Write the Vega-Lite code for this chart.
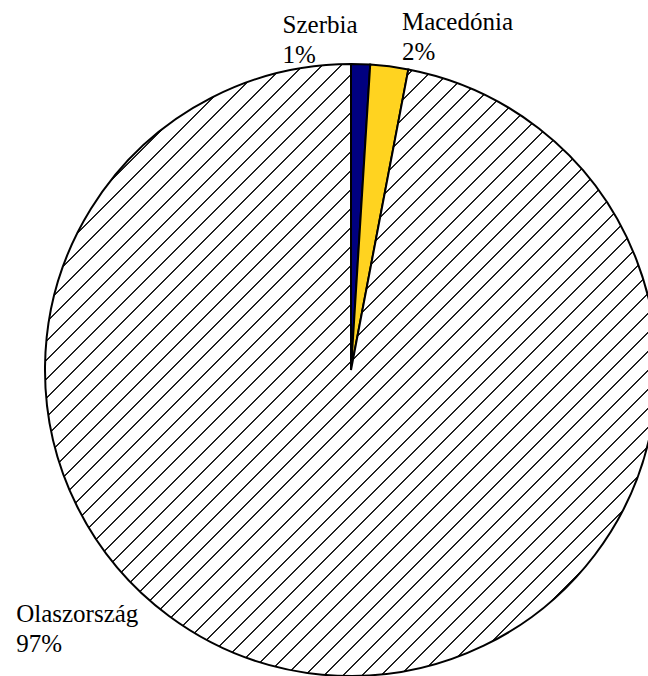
{
  "$schema": "https://vega.github.io/schema/vega-lite/v6.json",
  "width": 702,
  "height": 740,
  "autosize": "none",
  "padding": 0,
  "background": "white",
  "config": {"view": {"stroke": null}},
  "data": {
    "values": [
      {"country": "Szerbia", "share": 1, "rank": 1, "label": ["Szerbia", "1%"]},
      {"country": "Macedónia", "share": 2, "rank": 2, "label": ["Macedónia", "2%"]},
      {"country": "Olaszország", "share": 97, "rank": 3, "label": ["Olaszország", "97%"]}
    ]
  },
  "encoding": {
    "theta": {"field": "share", "type": "quantitative", "stack": true},
    "order": {"field": "rank", "type": "quantitative"}
  },
  "layer": [
    {
      "mark": {"type": "arc", "outerRadius": 306, "stroke": "black", "strokeWidth": 2},
      "encoding": {
        "fill": {
          "condition": {
            "test": "datum.country === 'Olaszország'",
            "value": {
              "gradient": "linear", "x1": 0, "y1": 0, "x2": 1, "y2": 1,
              "stops": [
                {"offset": 0, "color": "#fff"},
                {"offset": 0.0078, "color": "#fff"},{"offset": 0.0078, "color": "#222"},{"offset": 0.0094, "color": "#222"},{"offset": 0.0094, "color": "#fff"},
                {"offset": 0.0234, "color": "#fff"},{"offset": 0.0234, "color": "#222"},{"offset": 0.0250, "color": "#222"},{"offset": 0.0250, "color": "#fff"},
                {"offset": 0.0391, "color": "#fff"},{"offset": 0.0391, "color": "#222"},{"offset": 0.0407, "color": "#222"},{"offset": 0.0407, "color": "#fff"},
                {"offset": 0.0547, "color": "#fff"},{"offset": 0.0547, "color": "#222"},{"offset": 0.0563, "color": "#222"},{"offset": 0.0563, "color": "#fff"},
                {"offset": 0.0703, "color": "#fff"},{"offset": 0.0703, "color": "#222"},{"offset": 0.0719, "color": "#222"},{"offset": 0.0719, "color": "#fff"},
                {"offset": 0.0859, "color": "#fff"},{"offset": 0.0859, "color": "#222"},{"offset": 0.0875, "color": "#222"},{"offset": 0.0875, "color": "#fff"},
                {"offset": 0.1016, "color": "#fff"},{"offset": 0.1016, "color": "#222"},{"offset": 0.1032, "color": "#222"},{"offset": 0.1032, "color": "#fff"},
                {"offset": 0.1172, "color": "#fff"},{"offset": 0.1172, "color": "#222"},{"offset": 0.1188, "color": "#222"},{"offset": 0.1188, "color": "#fff"},
                {"offset": 0.1328, "color": "#fff"},{"offset": 0.1328, "color": "#222"},{"offset": 0.1344, "color": "#222"},{"offset": 0.1344, "color": "#fff"},
                {"offset": 0.1484, "color": "#fff"},{"offset": 0.1484, "color": "#222"},{"offset": 0.1500, "color": "#222"},{"offset": 0.1500, "color": "#fff"},
                {"offset": 0.1641, "color": "#fff"},{"offset": 0.1641, "color": "#222"},{"offset": 0.1657, "color": "#222"},{"offset": 0.1657, "color": "#fff"},
                {"offset": 0.1797, "color": "#fff"},{"offset": 0.1797, "color": "#222"},{"offset": 0.1813, "color": "#222"},{"offset": 0.1813, "color": "#fff"},
                {"offset": 0.1953, "color": "#fff"},{"offset": 0.1953, "color": "#222"},{"offset": 0.1969, "color": "#222"},{"offset": 0.1969, "color": "#fff"},
                {"offset": 0.2109, "color": "#fff"},{"offset": 0.2109, "color": "#222"},{"offset": 0.2125, "color": "#222"},{"offset": 0.2125, "color": "#fff"},
                {"offset": 0.2266, "color": "#fff"},{"offset": 0.2266, "color": "#222"},{"offset": 0.2282, "color": "#222"},{"offset": 0.2282, "color": "#fff"},
                {"offset": 0.2422, "color": "#fff"},{"offset": 0.2422, "color": "#222"},{"offset": 0.2438, "color": "#222"},{"offset": 0.2438, "color": "#fff"},
                {"offset": 0.2578, "color": "#fff"},{"offset": 0.2578, "color": "#222"},{"offset": 0.2594, "color": "#222"},{"offset": 0.2594, "color": "#fff"},
                {"offset": 0.2734, "color": "#fff"},{"offset": 0.2734, "color": "#222"},{"offset": 0.2750, "color": "#222"},{"offset": 0.2750, "color": "#fff"},
                {"offset": 0.2891, "color": "#fff"},{"offset": 0.2891, "color": "#222"},{"offset": 0.2907, "color": "#222"},{"offset": 0.2907, "color": "#fff"},
                {"offset": 0.3047, "color": "#fff"},{"offset": 0.3047, "color": "#222"},{"offset": 0.3063, "color": "#222"},{"offset": 0.3063, "color": "#fff"},
                {"offset": 0.3203, "color": "#fff"},{"offset": 0.3203, "color": "#222"},{"offset": 0.3219, "color": "#222"},{"offset": 0.3219, "color": "#fff"},
                {"offset": 0.3359, "color": "#fff"},{"offset": 0.3359, "color": "#222"},{"offset": 0.3375, "color": "#222"},{"offset": 0.3375, "color": "#fff"},
                {"offset": 0.3516, "color": "#fff"},{"offset": 0.3516, "color": "#222"},{"offset": 0.3532, "color": "#222"},{"offset": 0.3532, "color": "#fff"},
                {"offset": 0.3672, "color": "#fff"},{"offset": 0.3672, "color": "#222"},{"offset": 0.3688, "color": "#222"},{"offset": 0.3688, "color": "#fff"},
                {"offset": 0.3828, "color": "#fff"},{"offset": 0.3828, "color": "#222"},{"offset": 0.3844, "color": "#222"},{"offset": 0.3844, "color": "#fff"},
                {"offset": 0.3984, "color": "#fff"},{"offset": 0.3984, "color": "#222"},{"offset": 0.4000, "color": "#222"},{"offset": 0.4000, "color": "#fff"},
                {"offset": 0.4141, "color": "#fff"},{"offset": 0.4141, "color": "#222"},{"offset": 0.4157, "color": "#222"},{"offset": 0.4157, "color": "#fff"},
                {"offset": 0.4297, "color": "#fff"},{"offset": 0.4297, "color": "#222"},{"offset": 0.4313, "color": "#222"},{"offset": 0.4313, "color": "#fff"},
                {"offset": 0.4453, "color": "#fff"},{"offset": 0.4453, "color": "#222"},{"offset": 0.4469, "color": "#222"},{"offset": 0.4469, "color": "#fff"},
                {"offset": 0.4609, "color": "#fff"},{"offset": 0.4609, "color": "#222"},{"offset": 0.4625, "color": "#222"},{"offset": 0.4625, "color": "#fff"},
                {"offset": 0.4766, "color": "#fff"},{"offset": 0.4766, "color": "#222"},{"offset": 0.4782, "color": "#222"},{"offset": 0.4782, "color": "#fff"},
                {"offset": 0.4922, "color": "#fff"},{"offset": 0.4922, "color": "#222"},{"offset": 0.4938, "color": "#222"},{"offset": 0.4938, "color": "#fff"},
                {"offset": 0.5078, "color": "#fff"},{"offset": 0.5078, "color": "#222"},{"offset": 0.5094, "color": "#222"},{"offset": 0.5094, "color": "#fff"},
                {"offset": 0.5234, "color": "#fff"},{"offset": 0.5234, "color": "#222"},{"offset": 0.5250, "color": "#222"},{"offset": 0.5250, "color": "#fff"},
                {"offset": 0.5391, "color": "#fff"},{"offset": 0.5391, "color": "#222"},{"offset": 0.5407, "color": "#222"},{"offset": 0.5407, "color": "#fff"},
                {"offset": 0.5547, "color": "#fff"},{"offset": 0.5547, "color": "#222"},{"offset": 0.5563, "color": "#222"},{"offset": 0.5563, "color": "#fff"},
                {"offset": 0.5703, "color": "#fff"},{"offset": 0.5703, "color": "#222"},{"offset": 0.5719, "color": "#222"},{"offset": 0.5719, "color": "#fff"},
                {"offset": 0.5859, "color": "#fff"},{"offset": 0.5859, "color": "#222"},{"offset": 0.5875, "color": "#222"},{"offset": 0.5875, "color": "#fff"},
                {"offset": 0.6016, "color": "#fff"},{"offset": 0.6016, "color": "#222"},{"offset": 0.6032, "color": "#222"},{"offset": 0.6032, "color": "#fff"},
                {"offset": 0.6172, "color": "#fff"},{"offset": 0.6172, "color": "#222"},{"offset": 0.6188, "color": "#222"},{"offset": 0.6188, "color": "#fff"},
                {"offset": 0.6328, "color": "#fff"},{"offset": 0.6328, "color": "#222"},{"offset": 0.6344, "color": "#222"},{"offset": 0.6344, "color": "#fff"},
                {"offset": 0.6484, "color": "#fff"},{"offset": 0.6484, "color": "#222"},{"offset": 0.6500, "color": "#222"},{"offset": 0.6500, "color": "#fff"},
                {"offset": 0.6641, "color": "#fff"},{"offset": 0.6641, "color": "#222"},{"offset": 0.6657, "color": "#222"},{"offset": 0.6657, "color": "#fff"},
                {"offset": 0.6797, "color": "#fff"},{"offset": 0.6797, "color": "#222"},{"offset": 0.6813, "color": "#222"},{"offset": 0.6813, "color": "#fff"},
                {"offset": 0.6953, "color": "#fff"},{"offset": 0.6953, "color": "#222"},{"offset": 0.6969, "color": "#222"},{"offset": 0.6969, "color": "#fff"},
                {"offset": 0.7109, "color": "#fff"},{"offset": 0.7109, "color": "#222"},{"offset": 0.7125, "color": "#222"},{"offset": 0.7125, "color": "#fff"},
                {"offset": 0.7266, "color": "#fff"},{"offset": 0.7266, "color": "#222"},{"offset": 0.7282, "color": "#222"},{"offset": 0.7282, "color": "#fff"},
                {"offset": 0.7422, "color": "#fff"},{"offset": 0.7422, "color": "#222"},{"offset": 0.7438, "color": "#222"},{"offset": 0.7438, "color": "#fff"},
                {"offset": 0.7578, "color": "#fff"},{"offset": 0.7578, "color": "#222"},{"offset": 0.7594, "color": "#222"},{"offset": 0.7594, "color": "#fff"},
                {"offset": 0.7734, "color": "#fff"},{"offset": 0.7734, "color": "#222"},{"offset": 0.7750, "color": "#222"},{"offset": 0.7750, "color": "#fff"},
                {"offset": 0.7891, "color": "#fff"},{"offset": 0.7891, "color": "#222"},{"offset": 0.7907, "color": "#222"},{"offset": 0.7907, "color": "#fff"},
                {"offset": 0.8047, "color": "#fff"},{"offset": 0.8047, "color": "#222"},{"offset": 0.8063, "color": "#222"},{"offset": 0.8063, "color": "#fff"},
                {"offset": 0.8203, "color": "#fff"},{"offset": 0.8203, "color": "#222"},{"offset": 0.8219, "color": "#222"},{"offset": 0.8219, "color": "#fff"},
                {"offset": 0.8359, "color": "#fff"},{"offset": 0.8359, "color": "#222"},{"offset": 0.8375, "color": "#222"},{"offset": 0.8375, "color": "#fff"},
                {"offset": 0.8516, "color": "#fff"},{"offset": 0.8516, "color": "#222"},{"offset": 0.8532, "color": "#222"},{"offset": 0.8532, "color": "#fff"},
                {"offset": 0.8672, "color": "#fff"},{"offset": 0.8672, "color": "#222"},{"offset": 0.8688, "color": "#222"},{"offset": 0.8688, "color": "#fff"},
                {"offset": 0.8828, "color": "#fff"},{"offset": 0.8828, "color": "#222"},{"offset": 0.8844, "color": "#222"},{"offset": 0.8844, "color": "#fff"},
                {"offset": 0.8984, "color": "#fff"},{"offset": 0.8984, "color": "#222"},{"offset": 0.9000, "color": "#222"},{"offset": 0.9000, "color": "#fff"},
                {"offset": 0.9141, "color": "#fff"},{"offset": 0.9141, "color": "#222"},{"offset": 0.9157, "color": "#222"},{"offset": 0.9157, "color": "#fff"},
                {"offset": 0.9297, "color": "#fff"},{"offset": 0.9297, "color": "#222"},{"offset": 0.9313, "color": "#222"},{"offset": 0.9313, "color": "#fff"},
                {"offset": 0.9453, "color": "#fff"},{"offset": 0.9453, "color": "#222"},{"offset": 0.9469, "color": "#222"},{"offset": 0.9469, "color": "#fff"},
                {"offset": 0.9609, "color": "#fff"},{"offset": 0.9609, "color": "#222"},{"offset": 0.9625, "color": "#222"},{"offset": 0.9625, "color": "#fff"},
                {"offset": 0.9766, "color": "#fff"},{"offset": 0.9766, "color": "#222"},{"offset": 0.9782, "color": "#222"},{"offset": 0.9782, "color": "#fff"},
                {"offset": 0.9922, "color": "#fff"},{"offset": 0.9922, "color": "#222"},{"offset": 0.9938, "color": "#222"},{"offset": 0.9938, "color": "#fff"},
                {"offset": 1, "color": "#fff"}
              ]
            }
          },
          "field": "country",
          "type": "nominal",
          "scale": {"domain": ["Szerbia", "Macedónia"], "range": ["#000080", "#FFD320"]},
          "legend": null
        }
      }
    },
    {
      "mark": {"type": "text", "radius": 306, "align": "left", "baseline": "alphabetic", "lineHeight": 30, "font": "Liberation Serif", "fontSize": 25, "fill": "black", "dx": -78, "dy": -31},
      "encoding": {
        "text": {"condition": {"test": "datum.country === 'Szerbia'", "field": "label"}, "value": ""}
      }
    },
    {
      "mark": {"type": "text", "radius": 306, "align": "left", "baseline": "alphabetic", "lineHeight": 30, "font": "Liberation Serif", "fontSize": 25, "fill": "black", "dx": 12.6, "dy": -36.4},
      "encoding": {
        "text": {"condition": {"test": "datum.country === 'Macedónia'", "field": "label"}, "value": ""}
      }
    },
    {
      "mark": {"type": "text", "radius": 306, "align": "left", "baseline": "alphabetic", "lineHeight": 30, "font": "Liberation Serif", "fontSize": 25, "fill": "black", "dx": -306, "dy": -53},
      "encoding": {
        "text": {"condition": {"test": "datum.country === 'Olaszország'", "field": "label"}, "value": ""}
      }
    }
  ]
}
